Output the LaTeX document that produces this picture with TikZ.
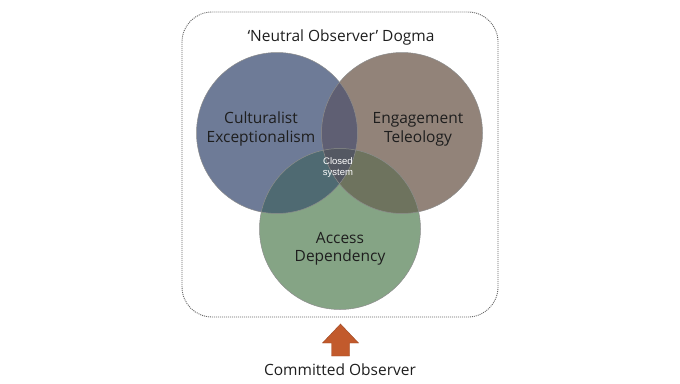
\documentclass[tikz,border=0pt]{standalone}
\usepackage{fontspec}
\setmainfont{Open Sans}
\newfontfamily\smallsans{Liberation Sans}
\definecolor{cblue}{HTML}{6E7B97}
\definecolor{cbrown}{HTML}{928379}
\definecolor{cgreen}{HTML}{85A485}
\definecolor{cbb}{HTML}{5F5F73}
\definecolor{cbg}{HTML}{4F6A72}
\definecolor{crg}{HTML}{6E735E}
\definecolor{cmid}{HTML}{545862}
\definecolor{carrow}{HTML}{C25A2C}
\definecolor{ctext}{HTML}{1E1E1E}
\begin{document}
\begin{tikzpicture}[x=1pt,y=-1pt,
  lbl/.style={font=\fontsize{15.5}{18.7}\selectfont, text=ctext, align=center, inner sep=0pt},
  edge/.style={draw=black!45, line width=0.5pt}]
\useasboundingbox (0,0) rectangle (680,383);
\def\B{(277,133) circle (80.5)}
\def\R{(402,133) circle (80.5)}
\def\G{(340,229) circle (80.5)}
\draw[black!60, dash pattern=on 1pt off 1pt, line width=0.9pt, rounded corners=30] (182,12) rectangle (498,317);
\fill[cblue] \B;
\fill[cbrown] \R;
\fill[cgreen] \G;
\begin{scope}\clip \B; \fill[cbb] \R; \fill[cbg] \G; \end{scope}
\begin{scope}\clip \R; \fill[crg] \G; \end{scope}
\begin{scope}\clip \B; \clip \R; \fill[cmid] \G; \end{scope}
\draw[edge] \B; \draw[edge] \R; \draw[edge] \G;
\node[lbl, anchor=base] (title) at (341,41.7) {`Neutral Observer' Dogma};
\node[lbl] (cult) at (261,129.3) {Culturalist\\Exceptionalism};
\node[lbl] (eng) at (418,129.6) {Engagement\\Teleology};
\node[lbl] (acc) at (340,248.7) {Access\\Dependency};
\node[font=\smallsans\fontsize{9.5}{10.5}\selectfont, text=white, align=center, inner sep=0pt] (closed) at (338,167.6) {Closed\\system};
\coordinate (tip) at (340.5,324);
\fill[carrow, draw=carrow!80!black, line width=0.4pt] (tip) -- (358.5,343) -- (349.5,343) -- (349.5,356) -- (331.5,356) -- (331.5,343) -- (322.5,343) -- cycle;
\node[lbl, anchor=base] (committed) at (340,375) {Committed Observer};
\end{tikzpicture}
\end{document}
